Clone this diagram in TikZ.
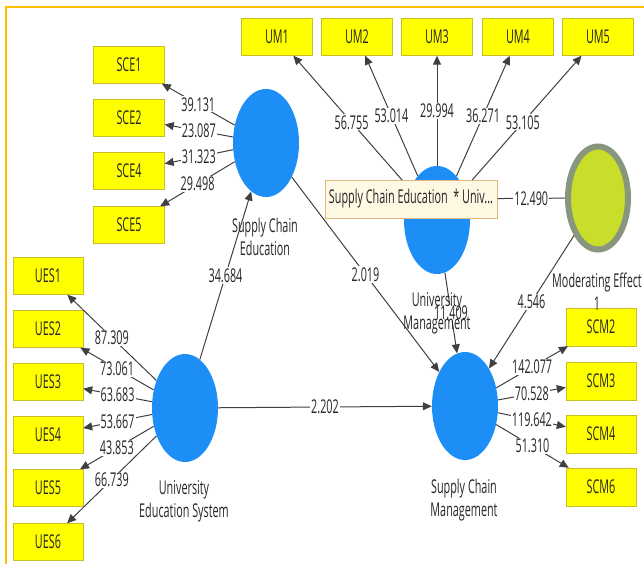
\documentclass[tikz,border=0pt]{standalone}
\usepackage{fontspec}
\setmainfont[FakeStretch=0.57]{Open Sans}
\usetikzlibrary{arrows.meta,shapes.geometric}
\definecolor{lvblue}{RGB}{28,142,245}
\definecolor{indyellow}{RGB}{255,255,0}
\definecolor{indedge}{RGB}{200,190,40}
\definecolor{modfill}{RGB}{200,222,42}
\definecolor{modedge}{RGB}{135,150,125}
\definecolor{tipfill}{RGB}{255,249,228}
\definecolor{tipedge}{RGB}{226,184,128}
\definecolor{frameorange}{RGB}{255,192,0}
\begin{document}
\begin{tikzpicture}[x=1pt,y=-1pt,
    every node/.style={font=\fontsize{19}{23}\selectfont,text=black!85},
    ind/.style={draw=indedge,fill=indyellow,minimum width=71pt,minimum height=37pt,inner sep=0pt},
    lat/.style={ellipse,fill=lvblue,minimum width=66pt,minimum height=108pt,inner sep=0pt},
    modlat/.style={ellipse,draw=modedge,line width=6pt,fill=modfill,minimum width=60pt,minimum height=103pt,inner sep=0pt},
    tipbox/.style={draw=tipedge,line width=1pt,fill=tipfill,minimum width=172pt,minimum height=38pt,inner sep=2pt},
    lvlabel/.style={align=center},
    coef/.style={fill=white,inner sep=1pt},
    loadarrow/.style={draw=black!75,line width=1pt,-{Triangle[length=9pt,width=8pt]}},
    plainline/.style={draw=black!75,line width=1pt}]
    \useasboundingbox (0,0) rectangle (644,564);
    \draw[frameorange,line width=2pt] (6,564) -- (6,7) -- (644,7);

    \node[ind] (UM1) at (277,37) {UM1};
    \node[ind] (UM2) at (357,37) {UM2};
    \node[ind] (UM3) at (437,37) {UM3};
    \node[ind] (UM4) at (518,37) {UM4};
    \node[ind] (UM5) at (598,37) {UM5};

    \node[ind] (SCE1) at (129,65) {SCE1};
    \node[ind] (SCE2) at (129,118) {SCE2};
    \node[ind] (SCE4) at (129,171) {SCE4};
    \node[ind] (SCE5) at (129,225) {SCE5};

    \node[ind,minimum width=70pt] (UES1) at (48,276) {UES1};
    \node[ind,minimum width=70pt] (UES2) at (48,329) {UES2};
    \node[ind,minimum width=70pt] (UES3) at (48,382) {UES3};
    \node[ind,minimum width=70pt] (UES4) at (48,435) {UES4};
    \node[ind,minimum width=70pt] (UES5) at (48,488) {UES5};
    \node[ind,minimum width=70pt] (UES6) at (48,542) {UES6};

    \node[ind,minimum width=70pt,minimum height=38pt] (SCM2) at (601,327) {SCM2};
    \node[ind,minimum width=70pt,minimum height=38pt] (SCM3) at (601,381) {SCM3};
    \node[ind,minimum width=70pt,minimum height=38pt] (SCM4) at (601,434) {SCM4};
    \node[ind,minimum width=70pt,minimum height=38pt] (SCM6) at (601,487) {SCM6};

    \node[lat] (SCE) at (266,143) {};
    \node[lat] (UES) at (185,408) {};
    \node[lat] (UM) at (437,220) {};
    \node[lat] (SCM) at (465,406) {};
    \node[modlat] (MOD) at (598,198) {};

    \draw[loadarrow] (UM) -- node[coef] {56.755} (UM1);
    \draw[loadarrow] (UM) -- node[coef] {53.014} (UM2);
    \draw[loadarrow] (UM) -- node[coef] {29.994} (UM3);
    \draw[loadarrow] (UM) -- node[coef] {36.271} (UM4);
    \draw[loadarrow] (UM) -- node[coef] {53.105} (UM5);

    \draw[loadarrow] (SCE) -- node[coef] {39.131} (SCE1);
    \draw[loadarrow] (SCE) -- node[coef] {23.087} (SCE2);
    \draw[loadarrow] (SCE) -- node[coef] {31.323} (SCE4);
    \draw[loadarrow] (SCE) -- node[coef] {29.498} (SCE5);

    \draw[loadarrow] (UES) -- node[coef] {87.309} (UES1);
    \draw[loadarrow] (UES) -- node[coef] {73.061} (UES2);
    \draw[loadarrow] (UES) -- node[coef] {63.683} (UES3);
    \draw[loadarrow] (UES) -- node[coef] {53.667} (UES4);
    \draw[loadarrow] (UES) -- node[coef] {43.853} (UES5);
    \draw[loadarrow] (UES) -- node[coef] {66.739} (UES6);

    \draw[loadarrow] (SCM) -- node[coef] {142.077} (SCM2);
    \draw[loadarrow] (SCM) -- node[coef] {70.528} (SCM3);
    \draw[loadarrow] (SCM) -- node[coef] {119.642} (SCM4);
    \draw[loadarrow] (SCM) -- node[coef] {51.310} (SCM6);

    \draw[loadarrow] (UES) -- node[coef] {34.684} (SCE);
    \draw[loadarrow] (SCE) -- node[coef] {2.019} (SCM);
    \draw[loadarrow] (UES) -- node[coef] {2.202} (SCM);
    \draw[loadarrow] (UM) -- node[coef] {11.409} (SCM);
    \draw[loadarrow] (MOD) -- node[coef] {4.546} (SCM);

    \node[tipbox] (TIP) at (411,199) {Supply Chain Education\ \ * Univ...};
    \draw[plainline] (TIP) -- node[coef] {12.490} (MOD);

    \node[lvlabel] (SCEname) at (265,237) {Supply Chain\\Education};
    \node[lvlabel] (UESname) at (184,501) {University\\Education System};
    \node[lvlabel] (UMname) at (437,313) {University\\Management};
    \node[lvlabel] (SCMname) at (464,500) {Supply Chain\\Management};
    \node[lvlabel] (MODname) at (597,292) {Moderating Effect\\1};
\end{tikzpicture}
\end{document}
